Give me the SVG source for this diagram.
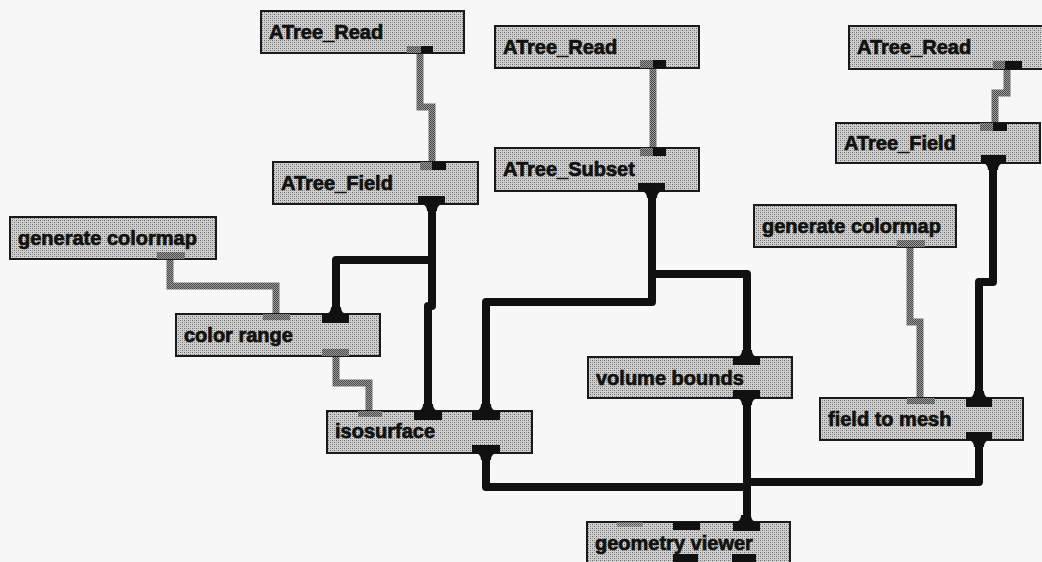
<svg xmlns="http://www.w3.org/2000/svg" width="1042" height="562" viewBox="0 0 1042 562">
<defs>
  <pattern id="halftone" patternUnits="userSpaceOnUse" width="4" height="4">
    <rect width="4" height="4" fill="#d0d0d0"/>
    <rect x="0" y="0" width="1" height="1" fill="#666"/>
    <rect x="2" y="2" width="1" height="1" fill="#666"/>
    <rect x="2" y="0" width="1" height="1" fill="#9a9a9a"/>
    <rect x="0" y="2" width="1" height="1" fill="#9a9a9a"/>
  </pattern>
  <pattern id="cable" patternUnits="userSpaceOnUse" width="2" height="2">
    <rect width="2" height="2" fill="#999"/>
    <rect width="1" height="1" fill="#4a4a4a"/>
    <rect x="1" y="1" width="1" height="1" fill="#4a4a4a"/>
  </pattern>
</defs>
<style>
  .box { fill:url(#halftone); stroke:#1a1a1a; stroke-width:2; }
  .lbl { font-family:"Liberation Sans", Arial, sans-serif; font-weight:bold; font-size:20px; fill:#111; stroke:#111; stroke-width:0.7; }
  .wire { fill:none; stroke:#111; stroke-width:8; stroke-linejoin:round; }
  .cable { fill:none; stroke:url(#cable); stroke-width:7; }
  .port { fill:#111; }
  .gport { fill:url(#cable); }
</style>
<rect width="1042" height="562" fill="#f7f7f7"/>

<g id="connectors">
  <path class="cable" d="M420 53 V107 H432 V162"/>
  <path class="cable" d="M653 68 V148"/>
  <path class="cable" d="M1007 69 V93 H995 V123"/>
  <path class="cable" d="M170 259 V286 H276 V314"/>
  <path class="cable" d="M336 356 V383 H369 V411"/>
  <path class="cable" d="M910 247 V322 H920 V398"/>
  <path class="wire" d="M432 204 V306 H428 V411"/>
  <path class="wire" d="M432 260 H336 V314"/>
  <path class="wire" d="M652 191 V274 H747 V357"/>
  <path class="wire" d="M652 274 V302 H486 V411"/>
  <path class="wire" d="M486 453 V487 H746"/>
  <path class="wire" d="M747 398 V522"/>
  <path class="wire" d="M979 440 V482 H746"/>
  <path class="wire" d="M993 163 V282 H979 V398"/>
</g>

<g id="read1">
  <rect class="box" x="261" y="11" width="203" height="42"/>
  <text class="lbl" x="269" y="39">ATree_Read</text>
  <rect class="port" x="407" y="46" width="26" height="7"/>
  <rect class="gport" x="407" y="46" width="14" height="7"/>
</g>
<g id="field1">
  <rect class="box" x="273" y="162" width="205" height="42"/>
  <text class="lbl" x="281" y="190">ATree_Field</text>
  <rect class="port" x="420" y="162" width="26" height="8"/>
  <rect class="gport" x="420" y="162" width="12" height="8"/>
  <rect class="port" x="418" y="196" width="27" height="8"/>
  <path class="port" d="M419,203 C425,204 427,207 427,211 H437 C437,207 439,204 445,203 Z"/>
</g>
<g id="read2">
  <rect class="box" x="495" y="26" width="204" height="42"/>
  <text class="lbl" x="503" y="54">ATree_Read</text>
  <rect class="port" x="640" y="60" width="26" height="8"/>
  <rect class="gport" x="640" y="60" width="13" height="8"/>
</g>
<g id="subset">
  <rect class="box" x="495" y="148" width="204" height="43"/>
  <text class="lbl" x="503" y="176">ATree_Subset</text>
  <rect class="port" x="640" y="148" width="26" height="8"/>
  <rect class="gport" x="640" y="148" width="13" height="8"/>
  <rect class="port" x="638" y="183" width="27" height="8"/>
  <path class="port" d="M639,190 C645,191 647,194 647,198 H657 C657,194 659,191 665,190 Z"/>
</g>
<g id="read3">
  <rect class="box" x="849" y="26" width="204" height="43"/>
  <text class="lbl" x="857" y="54">ATree_Read</text>
  <rect class="port" x="993" y="61" width="29" height="8"/>
  <rect class="gport" x="993" y="61" width="12" height="8"/>
</g>
<g id="field3">
  <rect class="box" x="836" y="123" width="204" height="40"/>
  <text class="lbl" x="844" y="150">ATree_Field</text>
  <rect class="port" x="980" y="123" width="27" height="8"/>
  <rect class="gport" x="980" y="123" width="13" height="8"/>
  <rect class="port" x="981" y="155" width="25" height="8"/>
  <path class="port" d="M980,162 C986,163 988,166 988,170 H998 C998,166 1000,163 1006,162 Z"/>
</g>
<g id="gen1">
  <rect class="box" x="10" y="217" width="206" height="42"/>
  <text class="lbl" x="18" y="245">generate colormap</text>
  <rect class="gport" x="157" y="252" width="28" height="7"/>
</g>
<g id="colorrange">
  <rect class="box" x="176" y="314" width="204" height="42"/>
  <text class="lbl" x="184" y="342">color range</text>
  <rect class="gport" x="263" y="314" width="27" height="6"/>
  <rect class="port" x="322" y="314" width="27" height="9"/>
  <path class="port" d="M323,315 C329,314 331,311 331,307 H341 C341,311 343,314 349,315 Z"/>
  <rect class="gport" x="322" y="349" width="27" height="7"/>
</g>
<g id="isosurface">
  <rect class="box" x="327" y="411" width="205" height="42"/>
  <text class="lbl" x="335" y="438">isosurface</text>
  <rect class="gport" x="358" y="411" width="24" height="6"/>
  <rect class="port" x="414" y="411" width="28" height="9"/>
  <path class="port" d="M415,412 C421,411 423,408 423,404 H433 C433,408 435,411 441,412 Z"/>
  <rect class="port" x="472" y="411" width="28" height="9"/>
  <path class="port" d="M473,412 C479,411 481,408 481,404 H491 C491,408 493,411 499,412 Z"/>
  <rect class="port" x="472" y="445" width="28" height="8"/>
  <path class="port" d="M473,452 C479,453 481,456 481,460 H491 C491,456 493,453 499,452 Z"/>
</g>
<g id="volumebounds">
  <rect class="box" x="588" y="357" width="204" height="41"/>
  <text class="lbl" x="596" y="385">volume bounds</text>
  <rect class="port" x="733" y="357" width="27" height="8"/>
  <path class="port" d="M734,358 C740,357 742,354 742,350 H752 C752,354 754,357 760,358 Z"/>
  <rect class="port" x="733" y="390" width="27" height="8"/>
  <path class="port" d="M734,397 C740,398 742,401 742,405 H752 C752,401 754,398 760,397 Z"/>
</g>
<g id="gen2">
  <rect class="box" x="754" y="205" width="202" height="42"/>
  <text class="lbl" x="762" y="233">generate colormap</text>
  <rect class="gport" x="897" y="240" width="28" height="7"/>
</g>
<g id="fieldtomesh">
  <rect class="box" x="820" y="398" width="203" height="42"/>
  <text class="lbl" x="828" y="426">field to mesh</text>
  <rect class="gport" x="907" y="398" width="28" height="6"/>
  <rect class="port" x="966" y="398" width="26" height="9"/>
  <path class="port" d="M966,399 C972,398 974,395 974,391 H984 C984,395 986,398 992,399 Z"/>
  <rect class="port" x="966" y="432" width="26" height="8"/>
  <path class="port" d="M966,439 C972,440 974,443 974,447 H984 C984,443 986,440 992,439 Z"/>
</g>
<g id="geometryviewer">
  <rect class="box" x="587" y="522" width="203" height="45"/>
  <text class="lbl" x="595" y="550">geometry viewer</text>
  <rect class="gport" x="617" y="522" width="26" height="5" opacity="0.7"/>
  <rect class="port" x="673" y="522" width="27" height="8"/>
  <rect class="port" x="733" y="522" width="27" height="9"/>
  <path class="port" d="M733,523 C739,522 741,519 741,515 H751 C751,519 753,522 759,523 Z"/>
  <rect class="port" x="673" y="554" width="25" height="8"/>
  <rect class="port" x="732" y="554" width="24" height="8"/>
</g>
</svg>
